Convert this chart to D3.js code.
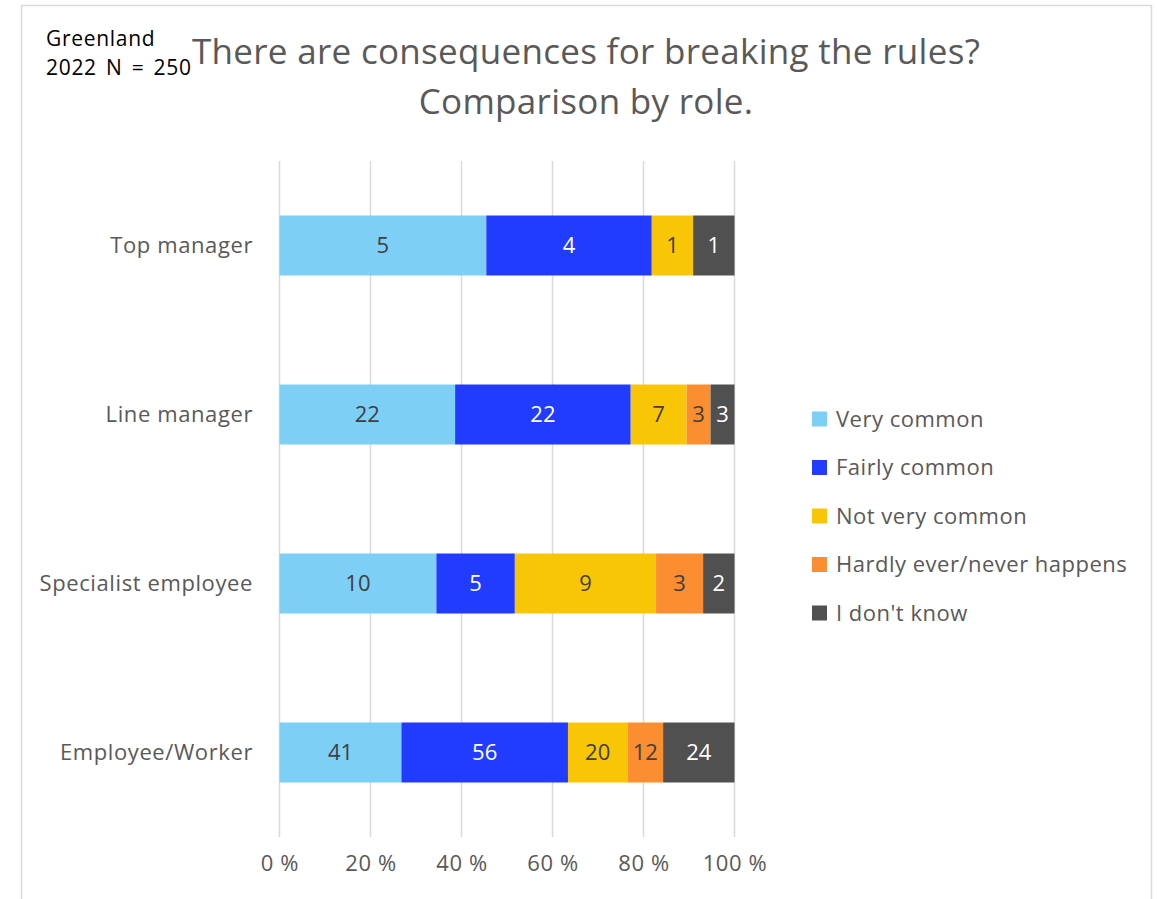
<!DOCTYPE html>
<html>
<head>
<meta charset="utf-8">
<script src="https://cdn.jsdelivr.net/npm/d3@7"></script>
<style>
  html, body { margin: 0; padding: 0; background: #fff; }
  svg { display: block; font-family: "Open Sans", sans-serif; }
</style>
</head>
<body>
<svg id="chart" width="1157" height="899"></svg>
<script>
// Survey responses by role (counts), drawn as 100 % stacked bars
const roles = ["Top manager", "Line manager", "Specialist employee", "Employee/Worker"];
const answers = ["Very common", "Fairly common", "Not very common", "Hardly ever/never happens", "I don't know"];
const veryCommon   = [5, 22, 10, 41];
const fairlyCommon = [4, 22, 5, 56];
const notVery      = [1, 7, 9, 20];
const hardlyEver   = [0, 3, 3, 12];
const dontKnow     = [1, 3, 2, 24];
const tickValues = [0, 0.2, 0.4, 0.6, 0.8, 1];

const colors = ["#7DCFF6", "#213BFF", "#F8C606", "#FB8E31", "#505050"];
const labelColors = ["#404040", "#ffffff", "#404040", "#404040", "#ffffff"];

const seriesValues = [veryCommon, fairlyCommon, notVery, hardlyEver, dontKnow];
const rows = roles.map((r, i) => {
  const row = { role: r };
  answers.forEach((a, k) => { row[a] = seriesValues[k][i]; });
  return row;
});

const FONT = 22, SPACING = 0.6;
const svg = d3.select("#chart");

// chart frame
svg.append("rect")
  .attr("x", 21.5).attr("y", 5.5)
  .attr("width", 1130).attr("height", 920)
  .attr("fill", "#fff").attr("stroke", "#D9D9D9").attr("stroke-width", 1.5);

const x = d3.scaleLinear().domain([0, 1]).range([279.5, 734.5]);
const y = d3.scaleBand().domain(roles).range([161, 837])
  .paddingInner(0.645).paddingOuter(0.3225);

// vertical gridlines
svg.append("g").selectAll("line").data(tickValues).join("line")
  .attr("x1", d => x(d)).attr("x2", d => x(d))
  .attr("y1", 161).attr("y2", 837)
  .attr("stroke", "#D9D9D9").attr("stroke-width", 1.5);

// x axis labels
const xAxis = d3.axisBottom(x).tickValues(tickValues)
  .tickFormat(d => Math.round(d * 100) + " %").tickSize(0).tickPadding(0);
const gx = svg.append("g").attr("transform", "translate(0,864)").call(xAxis);
gx.select(".domain").remove();
gx.selectAll("text").attr("fill", "#595959").attr("font-size", FONT)
  .attr("letter-spacing", SPACING)
  .attr("font-family", "'Open Sans', sans-serif").attr("dy", "0.3em");

// category axis labels
const yAxis = d3.axisLeft(y).tickSize(0).tickPadding(0);
const gy = svg.append("g").attr("transform", "translate(253,0)").call(yAxis);
gy.select(".domain").remove();
gy.selectAll("text").attr("fill", "#595959").attr("font-size", FONT)
  .attr("letter-spacing", SPACING)
  .attr("font-family", "'Open Sans', sans-serif");

// stacked, normalized bars
const stack = d3.stack().keys(answers).offset(d3.stackOffsetExpand);
const layers = stack(rows);

const layerG = svg.append("g").selectAll("g").data(layers).join("g")
  .attr("fill", (d, i) => colors[i]);

layerG.selectAll("rect").data(d => d).join("rect")
  .attr("x", d => x(d[0]))
  .attr("y", d => y(d.data.role))
  .attr("width", d => x(d[1]) - x(d[0]))
  .attr("height", y.bandwidth());

// value labels inside segments
svg.append("g").selectAll("g").data(layers).join("g")
  .each(function (layer, i) {
    d3.select(this).selectAll("text")
      .data(layer.filter(d => d.data[layer.key] > 0))
      .join("text")
      .attr("x", d => (x(d[0]) + x(d[1])) / 2)
      .attr("y", d => y(d.data.role) + y.bandwidth() / 2)
      .attr("dy", "0.36em")
      .attr("text-anchor", "middle")
      .attr("font-size", FONT)
      .attr("fill", labelColors[i])
      .text(d => d.data[layer.key]);
  });

// legend
const legend = svg.append("g").attr("transform", "translate(812,419)");
const item = legend.selectAll("g").data(answers).join("g")
  .attr("transform", (d, i) => `translate(0,${i * 48.5})`);
item.append("rect").attr("x", 0).attr("y", -7.5).attr("width", 15).attr("height", 15)
  .attr("fill", (d, i) => colors[i]);
item.append("text").attr("x", 24).attr("dy", "0.35em")
  .attr("font-size", FONT).attr("letter-spacing", 0.5)
  .attr("fill", "#595959").text(d => d);

// title
const title = svg.append("text").attr("text-anchor", "middle")
  .attr("font-size", 35).attr("letter-spacing", 0.3).attr("fill", "#595959");
title.append("tspan").attr("x", 586).attr("y", 64).text("There are consequences for breaking the rules?");
title.append("tspan").attr("x", 586).attr("y", 114).text("Comparison by role.");

// country / sample note
const note = svg.append("text").attr("font-size", 21).attr("letter-spacing", 0.7)
  .attr("word-spacing", 3).attr("fill", "#000");
note.append("tspan").attr("x", 46).attr("y", 46).text("Greenland");
note.append("tspan").attr("x", 46).attr("y", 75).text("2022 N = 250");
</script>
</body>
</html>
